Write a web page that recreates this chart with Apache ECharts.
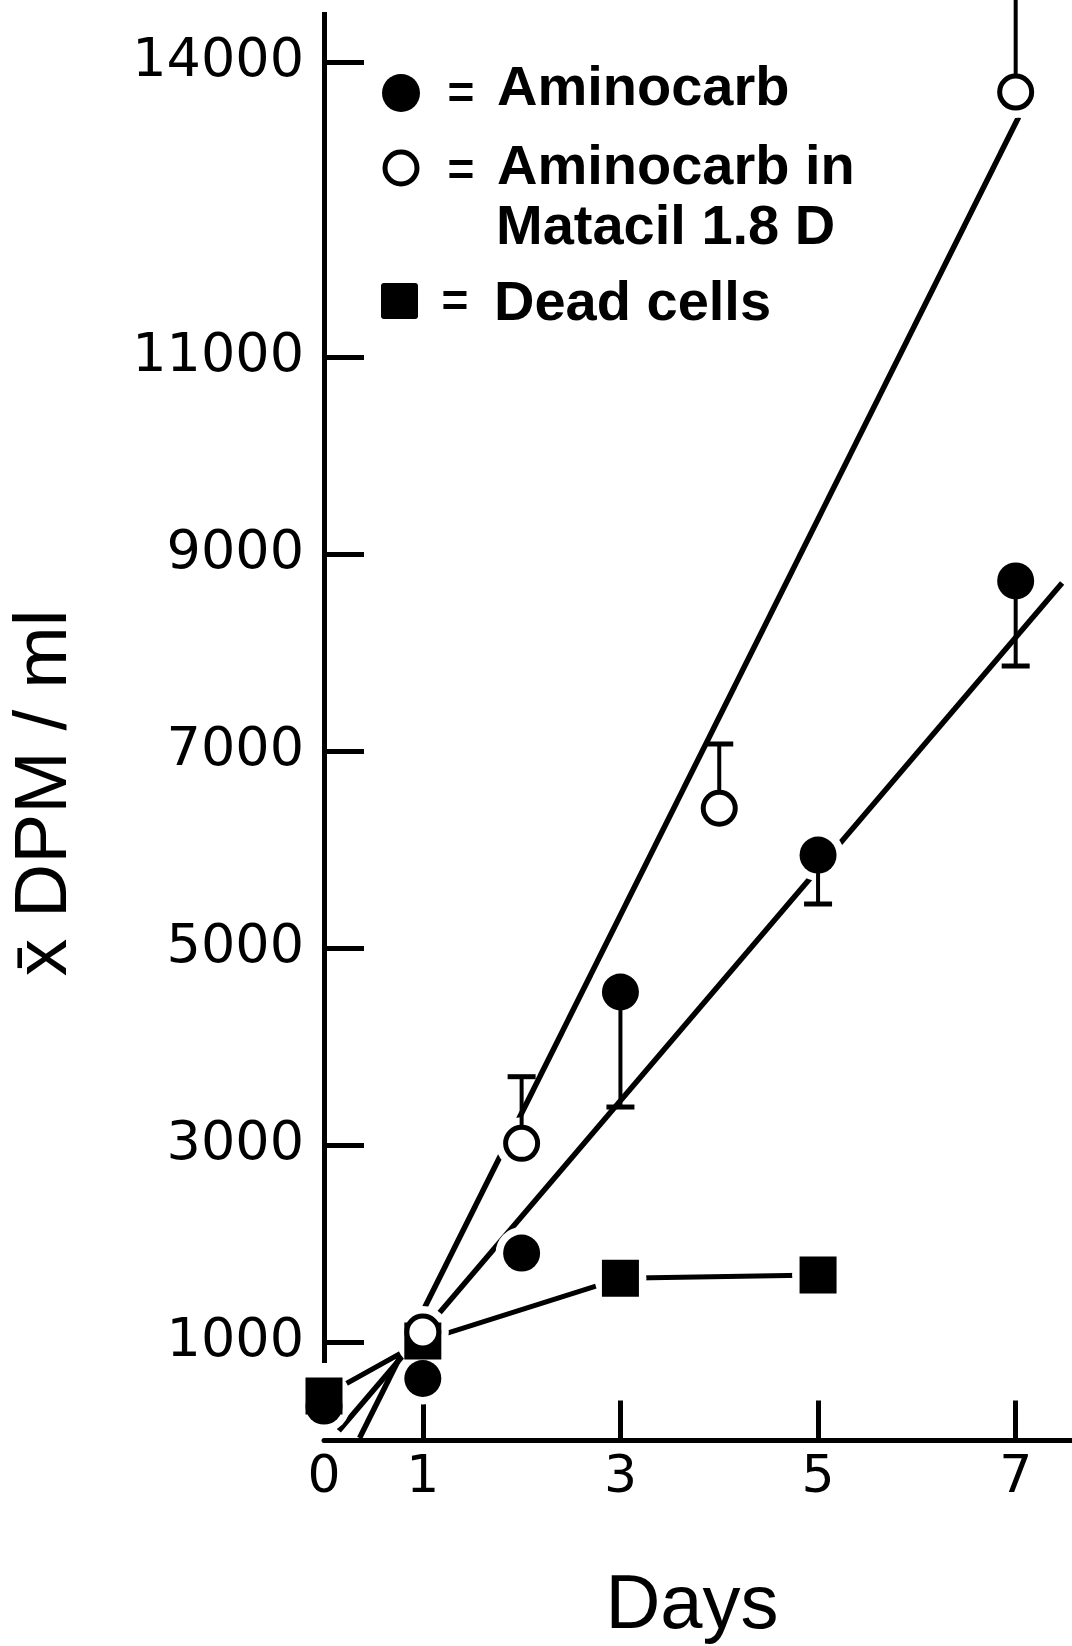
<!DOCTYPE html>
<html>
<head>
<meta charset="utf-8">
<title>DPM / ml over days</title>
<script src="https://cdn.jsdelivr.net/npm/echarts@6.0.0/dist/echarts.min.js"></script>
<style>
  html, body { margin: 0; padding: 0; background: #fff; }
  #chart { width: 1072px; height: 1646px; }
</style>
</head>
<body>
<div id="chart"></div>
<script>
// values (day, mean DPM/ml)
const aminoDays = [0, 1, 2, 3, 5, 7];
const aminoDpm = [350, 630, 1904, 4555, 5946, 8730];
const matacilDays = [1, 2, 4, 7];
const matacilDpm = [1102, 3018, 6421, 13695];
const deadDays = [0, 1, 3, 5];
const deadDpm = [452, 1011, 1647, 1681];

// one-sided error bars: where each bar ends
const aminoErrDays = [3, 5, 7];
const aminoErrEnd = [3387, 5449, 7866];
const matacilErrDays = [2, 4, 7];
const matacilErrEnd = [3695, 7074, 15500]; // last one runs off the top

// fitted lines, end points [day, dpm]
const aminoFit = [[0.15, 100], [7.47, 8709]];
const matacilFit = [[0.36, 25], [7.03, 13442]];

// axes
const yTickValues = [1000, 3000, 5000, 7000, 9000, 11000, 14000];
const xTickValues = [1, 3, 5, 7];
const xLabelValues = [0, 1, 3, 5, 7];
const yAxisSpan = [787, 14508]; // drawn part of the y axis line

const FONT = '"Liberation Sans", Arial, sans-serif';
const LABEL_FONT = '"DejaVu Sans", sans-serif';
const zip = (xs, ys) => xs.map((x, i) => [x, ys[i]]);

const errData = (days, ends, srcDays, srcVals) =>
  days.map((d, i) => [d, srcVals[srcDays.indexOf(d)], ends[i]]);

function renderErrorBar(params, api) {
  const x = api.value(0);
  const p = api.coord([x, api.value(1)]);
  const e = api.coord([x, api.value(2)]);
  const half = 14;
  return {
    type: 'group',
    children: [
      { type: 'line', shape: { x1: p[0], y1: p[1], x2: e[0], y2: e[1] },
        style: { stroke: '#000', lineWidth: 4 } },
      { type: 'line', shape: { x1: e[0] - half, y1: e[1], x2: e[0] + half, y2: e[1] },
        style: { stroke: '#000', lineWidth: 5 } }
    ]
  };
}

// white patch under a marker so lines stop short of it, as in the print
const haloRadius = 26;
function renderHalo(params, api) {
  const c = api.coord([api.value(0), api.value(1)]);
  return { type: 'circle', shape: { cx: c[0], cy: c[1], r: haloRadius }, style: { fill: '#fff' } };
}

const chart = echarts.init(document.getElementById('chart'));

const fitLine = (data) => ({
  type: 'line',
  data: data,
  showSymbol: false,
  lineStyle: { color: '#000', width: 5.5 },
  silent: true,
  z: 2
});

const haloData = []
  .concat(zip(aminoDays, aminoDpm))
  .concat(zip(matacilDays, matacilDpm))
  .concat(zip(deadDays, deadDpm));

const legendText = (x, y, text) => ({
  type: 'text', x: x, y: y,
  style: { text: text, fill: '#000', font: 'bold 56px ' + FONT, align: 'left', verticalAlign: 'middle' }
});
const equalsSign = (x, y) => ({
  type: 'text', x: x, y: y,
  style: { text: '=', fill: '#000', font: 'bold 46px ' + FONT, align: 'center', verticalAlign: 'middle' }
});

const option = {
  animation: false,
  backgroundColor: '#fff',
  grid: { left: 324, right: 0, top: 0, bottom: 204 },
  xAxis: {
    type: 'value',
    min: 0,
    max: 7.57,
    axisLine: { lineStyle: { color: '#000', width: 5 } },
    axisTick: {
      customValues: xTickValues,
      inside: true,
      length: 40,
      lineStyle: { color: '#000', width: 5 }
    },
    axisLabel: {
      customValues: xLabelValues,
      color: '#000',
      fontFamily: LABEL_FONT,
      fontSize: 52,
      margin: 10
    },
    splitLine: { show: false }
  },
  yAxis: {
    type: 'value',
    min: -15,
    max: 14630,
    axisLine: { show: false },
    axisTick: {
      show: true,
      customValues: yTickValues,
      inside: true,
      length: 40,
      lineStyle: { color: '#000', width: 5 }
    },
    axisLabel: {
      customValues: yTickValues,
      formatter: (v) => String(v),
      color: '#000',
      fontFamily: LABEL_FONT,
      fontSize: 54,
      margin: 20
    },
    splitLine: { show: false }
  },
  graphic: [
    // legend
    { type: 'circle', shape: { cx: 401, cy: 93, r: 19 }, style: { fill: '#000' } },
    { type: 'circle', shape: { cx: 401, cy: 168, r: 16 }, style: { fill: '#fff', stroke: '#000', lineWidth: 5 } },
    { type: 'rect', shape: { x: 381, y: 283, width: 37, height: 36, r: 3 }, style: { fill: '#000' } },
    equalsSign(461, 95),
    equalsSign(461, 172),
    equalsSign(455, 303),
    legendText(497, 90, 'Aminocarb'),
    legendText(497, 169, 'Aminocarb in'),
    legendText(496, 229, 'Matacil 1.8 D'),
    legendText(494, 305, 'Dead cells'),
    // axis titles
    { type: 'text', x: 45, y: 793, rotation: Math.PI / 2,
      style: { text: 'x\u0304 DPM / ml', fill: '#000', font: '75px ' + FONT, align: 'center', verticalAlign: 'middle' } },
    { type: 'text', x: 692, y: 1607,
      style: { text: 'Days', fill: '#000', font: '76px ' + FONT, align: 'center', verticalAlign: 'middle' } }
  ],
  series: [
    fitLine(aminoFit),
    fitLine(matacilFit),
    {
      name: 'Dead cells line',
      type: 'line',
      data: zip(deadDays, deadDpm),
      showSymbol: false,
      lineStyle: { color: '#000', width: 5 },
      silent: true,
      z: 2,
      // partial y axis line, it stops short of the x axis
      markLine: {
        silent: true,
        symbol: ['none', 'none'],
        label: { show: false },
        lineStyle: { color: '#000', width: 5, type: 'solid' },
        data: [[{ coord: [0, yAxisSpan[0]] }, { coord: [0, yAxisSpan[1]] }]]
      }
    },
    {
      type: 'custom',
      renderItem: renderHalo,
      data: haloData,
      silent: true,
      z: 3
    },
    {
      type: 'custom',
      renderItem: renderErrorBar,
      data: errData(aminoErrDays, aminoErrEnd, aminoDays, aminoDpm),
      silent: true,
      z: 4
    },
    {
      type: 'custom',
      renderItem: renderErrorBar,
      data: errData(matacilErrDays, matacilErrEnd, matacilDays, matacilDpm),
      silent: true,
      z: 4
    },
    {
      name: 'Dead cells',
      type: 'scatter',
      data: zip(deadDays, deadDpm),
      symbol: 'rect',
      symbolSize: 37,
      itemStyle: { color: '#000', opacity: 1 },
      z: 5
    },
    {
      name: 'Aminocarb',
      type: 'scatter',
      data: zip(aminoDays, aminoDpm),
      symbol: 'circle',
      symbolSize: 37,
      itemStyle: { color: '#000', opacity: 1 },
      z: 6
    },
    {
      name: 'Aminocarb in Matacil 1.8 D',
      type: 'scatter',
      data: zip(matacilDays, matacilDpm),
      symbol: 'circle',
      symbolSize: 32,
      itemStyle: { color: '#fff', borderColor: '#000', borderWidth: 5, opacity: 1 },
      z: 7
    }
  ]
};

chart.setOption(option);
</script>
</body>
</html>
